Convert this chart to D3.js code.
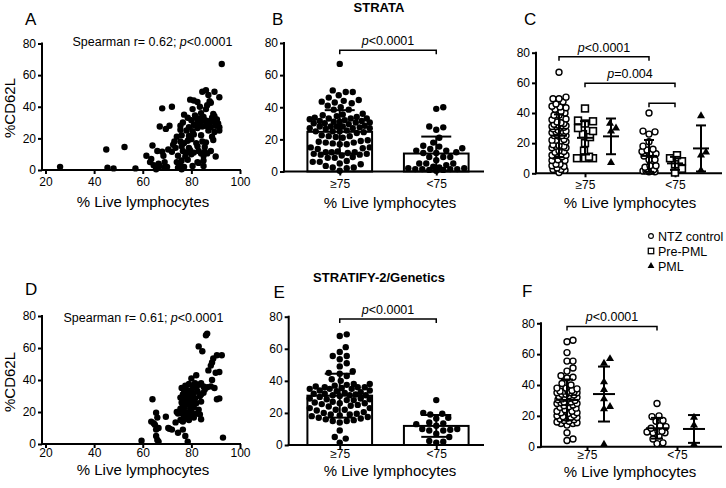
<!DOCTYPE html>
<html>
<head>
<meta charset="utf-8">
<script src="https://cdn.jsdelivr.net/npm/d3@7"></script>
<style>
  body { margin: 0; background: #fff; }
  svg { display: block; font-family: 'Liberation Sans', Arial, Helvetica, sans-serif; }
</style>
</head>
<body>
<div id="viz"></div>
<script>
/* global d3 */
const liveTicks = [20, 40, 60, 80, 100];
const cd62lTicks = [0, 20, 40, 60, 80];
const groups = ['≥75', '<75'];
const cutoff = 75;
const legendItems = ['NTZ control', 'Pre-PML', 'PML'];

// STRATA cohort: [% live lymphocytes, %CD62L]
const strataPoints = [
  [26, 2], [45, 13], [45.5, 1.5], [48, 1], [52.5, 14.5], [57, 1],
  [61.5, 9], [63, 5], [63.5, 7], [64, 15.5], [64.5, 3], [65.5, 1.5], [65.5, 0.5], [66, 12],
  [66.5, 4], [67, 27.5], [67, 2.5], [68, 39], [68, 11.5], [68.5, 9], [69, 5], [69, 1.5],
  [69.5, 26], [70, 2], [70.5, 13], [71, 28], [72, 40], [72, 11.5], [72.5, 16], [73, 18],
  [73.5, 14], [74, 21], [74, 5], [74.5, 1.5], [74.5, 9],
  [92.5, 67],
  [84.5, 49.5], [86, 50.5], [89.5, 49.5], [87, 47.5],
  [91.5, 46], [79.5, 44.5], [81, 44], [87.5, 43.5],
  [88, 42.5], [82.5, 43], [86.5, 41],
  [83.5, 40], [80.5, 38.5], [86, 38.5],
  [84, 36], [77, 35], [89, 35.5], [81.5, 34.5],
  [82, 33], [83.5, 32.5], [85, 33.5], [88.5, 33], [89.5, 34], [90.5, 32], [80, 31.5], [78.5, 33],
  [82.5, 31], [84, 30.5], [86.5, 31], [87.5, 30], [89, 30.5], [91, 29.5], [76.5, 30], [85.5, 31.5],
  [75.5, 28], [79, 27], [81, 28.5], [83, 28], [84.5, 27.5], [86, 28], [88, 27], [90, 28], [91.5, 27], [82.5, 26.5],
  [75.5, 25.5], [78, 25], [80.5, 24.5], [87, 25], [89.5, 24], [91.5, 25],
  [76, 22], [79, 21.5], [81, 22.5], [84, 22], [88.5, 21],
  [75.5, 18], [77, 17], [78.5, 18.5], [80, 19.5], [82, 17], [84.5, 18], [86, 17.5], [89, 19],
  [76, 15], [79, 14], [82.5, 15], [85.5, 14.5],
  [76.5, 12], [78, 11], [79.5, 12.5], [81, 11], [83, 12], [84, 10.5], [85.5, 11.5], [86.5, 10.5], [88, 12], [80, 10],
  [77.5, 8.5], [85, 9], [90, 8.5],
  [76, 6], [78.5, 6.5], [82.5, 5], [85, 6], [83, 4.5],
  [75.5, 3.5], [77, 2], [80.5, 2.5], [85, 2.5], [76, 0.5],
];
const strataPrePmlHigh = [43, 35, 34.5, 33, 30, 28, 26, 24, 20, 15, 11, 10, 10, 10];
const strataPrePmlLow = [12, 10, 8, 6, 3, 0.5];
const strataPmlHigh = [33, 30, 28, 7];
const strataPmlLow = [38, 14, 12, 2];

// STRATIFY-2 / Genetics cohort: [% live lymphocytes, %CD62L]
const stratifyPoints = [
  [64, 28], [74, 20], [65.5, 19.5], [74.5, 19], [69.5, 17], [66, 16.5], [63.5, 14], [73.5, 13.5],
  [64.5, 13], [65, 12], [70.5, 10], [66.5, 10], [71, 9.5], [72, 9], [65.5, 9], [74.5, 7],
  [65.5, 5], [66, 2.5], [59.5, 2], [66.5, 1.5],
  [86.5, 69], [86, 68], [83, 61], [84.5, 58],
  [90.5, 55.5], [92.5, 55.5], [89, 53.5], [88.5, 51], [88, 49],
  [87, 46], [90, 44.5], [82, 43], [91.5, 45],
  [88.5, 40], [80, 41],
  [79, 37.5], [81.5, 38], [83, 37], [85, 36], [86.5, 35.5], [88, 36], [77.5, 36.5], [80.5, 36], [84, 38],
  [76, 35], [78, 34], [82, 35], [85.5, 34], [89.5, 35], [80, 33.5],
  [77, 32], [79, 31], [80, 32.5], [81, 31.5], [82.5, 33], [84, 31], [78.5, 30.5], [85, 32], [76.5, 31], [83.5, 30],
  [75.5, 29], [77.5, 28], [79.5, 29], [81.5, 28.5], [90.5, 28], [91.5, 28.5], [78, 27],
  [76, 26], [78, 25], [80, 26], [82, 25.5], [84, 26.5], [79, 24.5], [76.5, 24],
  [77, 23], [79.5, 22], [81, 23], [83, 21.5], [75.5, 22],
  [76, 19], [77.5, 20], [78.5, 18], [79.5, 19.5], [80.5, 17.5], [82, 19], [83.5, 18.5], [77, 17], [80, 20.5],
  [75.5, 15], [76.5, 14], [78, 16], [79, 15], [81, 16.5], [84, 15.5],
  [76.5, 9],
  [77.5, 5], [78.5, 1.5], [93, 4],
];
const stratifyPmlHigh = [57, 54, 42, 37, 31, 26, 24.5, 1.5];
const stratifyPmlLow = [19, 14, 1.5];

const svg = d3.select('#viz').append('svg')
  .attr('width', 726)
  .attr('height', 488);

function tidy(ax) {
  ax.select('.domain').remove();
  ax.selectAll('.tick line').attr('stroke', '#000').attr('stroke-width', 2);
  ax.selectAll('.tick text').attr('fill', '#000').style('font-size', '12px');
}

function addText(g, x, y, str, size, opts = {}) {
  return g.append('text')
    .attr('x', x)
    .attr('y', y)
    .attr('text-anchor', opts.anchor || 'start')
    .attr('transform', opts.rotate ? `rotate(-90, ${x}, ${y})` : null)
    .style('font-size', `${size}px`)
    .style('font-weight', opts.bold ? 'bold' : 'normal')
    .text(str);
}

function pText(g, x, y, before, after, anchor) {
  const t = g.append('text')
    .attr('x', x)
    .attr('y', y)
    .attr('text-anchor', anchor)
    .style('font-size', '12.5px');
  if (before) t.append('tspan').text(before);
  t.append('tspan').style('font-style', 'italic').text('p');
  t.append('tspan').text(after);
}

function drawAxes(g, y, cfg, xAxis) {
  const ya = g.append('g')
    .attr('transform', `translate(${cfg.axisX},0)`)
    .call(d3.axisLeft(y).tickValues(cd62lTicks).tickSize(4).tickPadding(2));
  tidy(ya);
  g.append('line')
    .attr('x1', cfg.axisX).attr('x2', cfg.axisX)
    .attr('y1', y(0) + 1).attr('y2', y(80) - 1)
    .attr('stroke', '#000').attr('stroke-width', 2);
  const xa = g.append('g')
    .attr('transform', `translate(0,${y(0)})`)
    .call(xAxis.tickSize(4).tickPadding(cfg.tickPad));
  tidy(xa);
  g.append('line')
    .attr('x1', cfg.axisX - 1).attr('x2', cfg.xEnd)
    .attr('y1', y(0)).attr('y2', y(0))
    .attr('stroke', '#000').attr('stroke-width', 2);
  addText(g, cfg.letter[0], cfg.letter[1], cfg.letter[2], 17);
  addText(g, cfg.xTitle[0], cfg.xTitle[1], '% Live lymphocytes', 15, { anchor: 'middle' });
  if (cfg.yTitle) {
    addText(g, cfg.yTitle[0], cfg.yTitle[1], '%CD62L', 15, { anchor: 'middle', rotate: true });
  }
}

// place values as a swarm: returns horizontal offsets that avoid overlap
function swarm(values, y, diam, maxOff) {
  const placed = [];
  values.slice().sort((a, b) => a - b).forEach((v) => {
    const py = y(v);
    const near = placed.filter(p => Math.abs(p.y - py) < diam);
    let best = 0;
    let bestDist = -1;
    for (let k = 0; k <= 2 * maxOff; k += 1) {
      const off = (k % 2 ? 1 : -1) * Math.ceil(k / 2);
      const dMin = near.length ? d3.min(near, p => Math.hypot(p.x - off, p.y - py)) : Infinity;
      if (dMin >= diam) { best = off; break; }
      if (dMin > bestDist) { bestDist = dMin; best = off; }
    }
    placed.push({ v, x: best, y: py });
  });
  return placed;
}

function removeMatched(values, taken) {
  const left = values.slice();
  taken.forEach((t) => {
    const i = d3.minIndex(left, v => Math.abs(v - t));
    left.splice(i, 1);
  });
  return left;
}

function splitGroups(points) {
  return [
    points.filter(d => d[0] >= cutoff).map(d => d[1]),
    points.filter(d => d[0] < cutoff).map(d => d[1]),
  ];
}

function errorBar(g, cx, m, sd, y, cap, meanHalf) {
  const eb = g.append('g').attr('stroke', '#000').attr('stroke-width', 2);
  eb.append('line').attr('x1', cx).attr('x2', cx).attr('y1', y(Math.max(0, m - sd))).attr('y2', y(m + sd));
  eb.append('line').attr('x1', cx - cap).attr('x2', cx + cap).attr('y1', y(m + sd)).attr('y2', y(m + sd));
  if (m - sd > 0) {
    eb.append('line').attr('x1', cx - cap).attr('x2', cx + cap).attr('y1', y(m - sd)).attr('y2', y(m - sd));
  }
  if (meanHalf) {
    eb.append('line').attr('x1', cx - meanHalf).attr('x2', cx + meanHalf).attr('y1', y(m)).attr('y2', y(m));
  }
}

function bracket(g, x1, x2, yPos, label) {
  g.append('path')
    .attr('d', `M${x1},${yPos + 4}V${yPos}H${x2}V${yPos + 4}`)
    .attr('fill', 'none')
    .attr('stroke', '#000')
    .attr('stroke-width', 1.5);
  if (label) pText(g, (x1 + x2) / 2, yPos - 5, '', label, 'middle');
}

function scatterPanel(cfg) {
  const g = svg.append('g');
  const x = d3.scaleLinear().domain([20, 100]).range(cfg.xRange);
  const y = d3.scaleLinear().domain([0, 80]).range(cfg.yRange);
  drawAxes(g, y, cfg, d3.axisBottom(x).tickValues(liveTicks));
  g.append('g').selectAll('circle')
    .data(cfg.points)
    .join('circle')
    .attr('cx', d => x(d[0]))
    .attr('cy', d => y(d[1]))
    .attr('r', 3.2)
    .attr('fill', '#000');
  pText(g, cfg.stat[0], cfg.stat[1], `Spearman r= ${cfg.stat[2]}; `, '<0.0001', 'start');
}

function barPanel(cfg) {
  const g = svg.append('g');
  const x = d3.scaleBand().domain(groups).range(cfg.bandRange).paddingInner(0.33).paddingOuter(0.17);
  const y = d3.scaleLinear().domain([0, 80]).range(cfg.yRange);
  const split = splitGroups(cfg.points);
  groups.forEach((grp, i) => {
    const vals = split[i];
    const m = d3.mean(vals);
    const sd = d3.deviation(vals);
    const cx = x(grp) + x.bandwidth() / 2;
    g.append('rect')
      .attr('x', x(grp))
      .attr('y', y(m))
      .attr('width', x.bandwidth())
      .attr('height', y(0) - y(m))
      .attr('fill', '#fff')
      .attr('stroke', '#000')
      .attr('stroke-width', 2);
    g.append('g').selectAll('circle')
      .data(swarm(vals, y, 7, 30))
      .join('circle')
      .attr('cx', d => cx + d.x)
      .attr('cy', d => d.y)
      .attr('r', 3.2)
      .attr('fill', '#000');
    errorBar(g, cx, m, sd, y, 15, 0);
  });
  const pos = d => x(d) + x.bandwidth() / 2;
  drawAxes(g, y, cfg, d3.axisBottom(d3.scaleOrdinal().domain(groups).range(groups.map(pos))).tickValues(groups));
  addText(g, cfg.title[0], cfg.title[1], cfg.title[2], 13, { anchor: 'middle', bold: true });
  bracket(g, pos(groups[0]), pos(groups[1]), y(cfg.bracketLevel), '<0.0001');
}

function marker(sel, kind) {
  if (kind === 'NTZ control') {
    sel.append('circle').attr('r', 3).attr('fill', '#fff').attr('stroke', '#000').attr('stroke-width', 1.4);
  } else if (kind === 'Pre-PML') {
    sel.append('rect').attr('x', -3.4).attr('y', -3.4).attr('width', 6.8).attr('height', 6.8)
      .attr('fill', '#fff').attr('stroke', '#000').attr('stroke-width', 1.6);
  } else {
    sel.append('path').attr('d', d3.symbol(d3.symbolTriangle, 28)()).attr('fill', '#000');
  }
}

function dotPanel(cfg) {
  const g = svg.append('g');
  const gx = d3.scalePoint().domain(groups).range(cfg.groupRange);
  const sx = d3.scalePoint().domain(legendItems).range(cfg.subRange);
  const y = d3.scaleLinear().domain([0, 80]).range(cfg.yRange);
  const split = splitGroups(cfg.points);
  const colX = (grp, kind) => gx(grp) + sx(kind);
  drawAxes(g, y, cfg, d3.axisBottom(d3.scaleOrdinal().domain(groups).range(groups.map(d => gx(d)))).tickValues(groups));
  groups.forEach((grp, i) => {
    const pre = cfg.pre ? cfg.pre[i] : [];
    const pml = cfg.pml[i];
    const columns = [
      { kind: 'NTZ control', values: removeMatched(split[i], pre.concat(pml)) },
      { kind: 'Pre-PML', values: pre },
      { kind: 'PML', values: pml },
    ].filter(c => c.values.length);
    columns.forEach((c) => {
      const cx = colX(grp, c.kind);
      const w = cfg.width[c.kind];
      g.append('g').selectAll('g')
        .data(swarm(c.values, y, w[0], w[1]))
        .join('g')
        .attr('transform', d => `translate(${cx + d.x},${d.y})`)
        .call(sel => marker(sel, c.kind));
      errorBar(g, cx, d3.mean(c.values), d3.deviation(c.values), y, cfg.cap, cfg.meanHalf);
    });
  });
  cfg.brackets.forEach((b) => {
    bracket(g, colX(b.from[0], b.from[1]), colX(b.to[0], b.to[1]), y(b.level), b.label);
  });
}

scatterPanel({
  points: strataPoints,
  axisX: 42, xEnd: 241, xRange: [45.5, 240], yRange: [170, 43.5], tickPad: 3,
  letter: [25, 25, 'A'], xTitle: [143, 207], yTitle: [15, 108],
  stat: [72.5, 46, '0.62'],
});

barPanel({
  points: strataPoints,
  axisX: 284, xEnd: 484, bandRange: [291, 485], yRange: [171.5, 43], tickPad: 3.5,
  letter: [272, 25, 'B'], xTitle: [390, 207.5], title: [379, 12, 'STRATA'],
  bracketLevel: 75.5,
});

dotPanel({
  points: strataPoints,
  pre: [strataPrePmlHigh, strataPrePmlLow],
  pml: [strataPmlHigh, strataPmlLow],
  axisX: 536, xEnd: 722, groupRange: [585, 675], subRange: [-26, 26], yRange: [173.3, 52.7], tickPad: 3.5,
  letter: [524, 25, 'C'], xTitle: [630, 208],
  width: { 'NTZ control': [6, 7], 'Pre-PML': [7.5, 8], PML: [7, 5] },
  cap: 5, meanHalf: 8,
  brackets: [
    { from: ['≥75', 'NTZ control'], to: ['<75', 'NTZ control'], level: 77.3, label: '<0.0001' },
    { from: ['≥75', 'Pre-PML'], to: ['<75', 'Pre-PML'], level: 59.7, label: '=0.004' },
    { from: ['<75', 'NTZ control'], to: ['<75', 'Pre-PML'], level: 46.4, label: '' },
  ],
});

scatterPanel({
  points: stratifyPoints,
  axisX: 42, xEnd: 241, xRange: [45.5, 240], yRange: [444, 316], tickPad: 0,
  letter: [25, 295, 'D'], xTitle: [143, 475], yTitle: [15, 382],
  stat: [63.5, 321.5, '0.61'],
});

barPanel({
  points: stratifyPoints,
  axisX: 288.7, xEnd: 484, bandRange: [291, 485], yRange: [445, 316.7], tickPad: 0,
  letter: [273.5, 298, 'E'], xTitle: [390, 476], title: [379, 282, 'STRATIFY-2/Genetics'],
  bracketLevel: 78.6,
});

dotPanel({
  points: stratifyPoints,
  pre: null,
  pml: [stratifyPmlHigh, stratifyPmlLow],
  axisX: 541, xEnd: 722, groupRange: [587, 677], subRange: [-20, 17], yRange: [446.7, 323.3], tickPad: 0,
  letter: [522, 297, 'F'], xTitle: [630, 477],
  width: { 'NTZ control': [6, 10], 'Pre-PML': [7.5, 8], PML: [7, 6] },
  cap: 6, meanHalf: 11,
  brackets: [
    { from: ['≥75', 'NTZ control'], to: ['<75', 'NTZ control'], level: 78, label: '<0.0001' },
  ],
});

// legend
const legend = svg.append('g').attr('class', 'legend');
legendItems.forEach((kind, i) => {
  const row = legend.append('g').attr('transform', `translate(651,${236 + i * 15})`);
  const m = row.append('g').attr('transform', kind === 'PML' ? 'scale(0.85)' : 'scale(0.8)');
  marker(m, kind);
  addText(row, 7, 4.5, kind, 12.5);
});
</script>
</body>
</html>
